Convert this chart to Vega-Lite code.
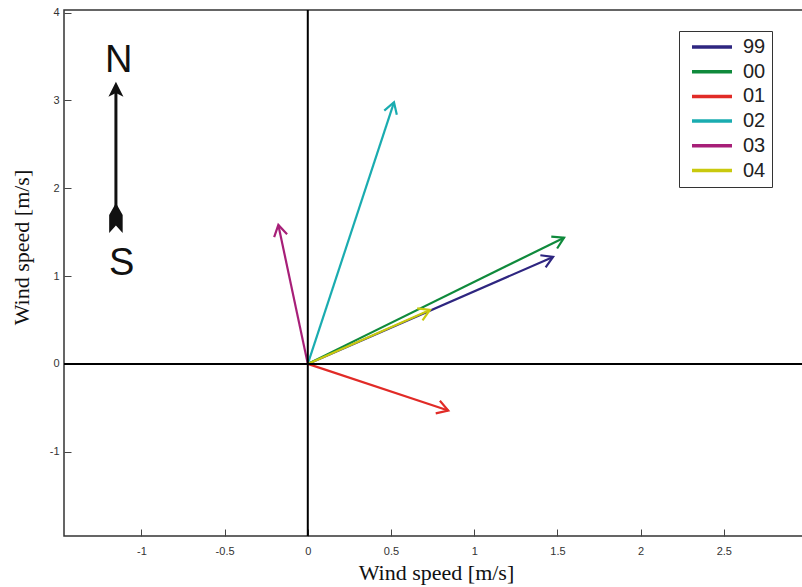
{
  "$schema": "https://vega.github.io/schema/vega-lite/v6.json",
  "width": 758,
  "height": 526,
  "autosize": {"type": "none"},
  "padding": {"left": 64, "top": 10, "right": -20, "bottom": 51},
  "background": "white",
  "config": {
    "view": {"stroke": "#333", "strokeWidth": 1.5},
    "axis": {
      "grid": false,
      "domain": false,
      "labelFont": "Liberation Sans",
      "labelFontSize": 11,
      "labelColor": "#333",
      "tickColor": "#444",
      "tickSize": -7,
      "tickWidth": 1,
      "titleFont": "Liberation Serif",
      "titleFontSize": 22,
      "titleFontWeight": "normal",
      "titleColor": "#111"
    }
  },
  "data": {
    "values": [
      {"series": "99", "u": 1.474, "v": 1.218},
      {"series": "00", "u": 1.540, "v": 1.437},
      {"series": "01", "u": 0.844, "v": -0.531},
      {"series": "02", "u": 0.518, "v": 2.979},
      {"series": "03", "u": -0.177, "v": 1.582},
      {"series": "04", "u": 0.734, "v": 0.614}
    ]
  },
  "layer": [
    {
      "mark": {"type": "rule", "strokeWidth": 2.2},
      "encoding": {
        "x": {
          "field": "u", "type": "quantitative",
          "scale": {"domain": [-1.465, 3.09], "nice": false, "zero": false},
          "axis": {
            "values": [-1, -0.5, 0, 0.5, 1, 1.5, 2, 2.5, 3],
            "labelExpr": "'' + datum.value",
            "labelPadding": 16,
            "title": "Wind speed [m/s]",
            "titleX": 372,
            "titleY": 43,
            "titleBaseline": "alphabetic",
            "titleAnchor": "middle"
          }
        },
        "y": {
          "field": "v", "type": "quantitative",
          "scale": {"domain": [-1.96, 4.03], "nice": false, "zero": false},
          "axis": {
            "values": [-1, 0, 1, 2, 3, 4],
            "labelExpr": "'' + datum.value",
            "labelPadding": 12,
            "title": "Wind speed [m/s]",
            "titleX": -36,
            "titleY": 237,
            "titleAngle": 270,
            "titleBaseline": "alphabetic",
            "titleAnchor": "middle"
          }
        },
        "x2": {"datum": 0},
        "y2": {"datum": 0},
        "color": {
          "field": "series", "type": "nominal",
          "scale": {
            "domain": ["99", "00", "01", "02", "03", "04"],
            "range": ["#2e2680", "#0f8a3c", "#e12b27", "#1aacb0", "#a71f78", "#c9c90e"]
          },
          "legend": {
            "orient": "none",
            "legendX": 615,
            "legendY": 21,
            "title": null,
            "symbolType": "stroke",
            "symbolSize": 1600,
            "symbolStrokeWidth": 3.5,
            "labelFont": "Liberation Sans",
            "labelFontSize": 20,
            "labelColor": "#222",
            "strokeColor": "#333",
            "fillColor": "white",
            "padding": 6,
            "clipHeight": 20,
            "rowPadding": 4.7,
            "symbolOffset": 5,
            "labelOffset": 9,
            "labelExpr": "datum.label + '    '"
          }
        }
      }
    },
    {
      "data": {"values": [{}]},
      "mark": {"type": "rule", "color": "#000", "strokeWidth": 2},
      "encoding": {
        "y": {"datum": 0, "type": "quantitative"}
      }
    },
    {
      "data": {"values": [{}]},
      "mark": {"type": "rule", "color": "#000", "strokeWidth": 2},
      "encoding": {
        "x": {"datum": 0, "type": "quantitative"}
      }
    },
    {
      "transform": [{"calculate": "atan2(-datum.v * 87.8, datum.u * 166.4) * 180 / PI", "as": "ang"}],
      "mark": {"type": "point", "shape": "M-1,-0.6L0,0L-1,0.6", "filled": false, "strokeWidth": 2.2, "size": 484, "opacity": 1},
      "encoding": {
        "x": {"field": "u", "type": "quantitative"},
        "y": {"field": "v", "type": "quantitative"},
        "color": {"field": "series", "type": "nominal", "legend": null},
        "angle": {"field": "ang", "type": "quantitative", "scale": null}
      }
    },
    {
      "data": {"values": [{}]},
      "mark": {"type": "rule", "color": "#111", "strokeWidth": 3},
      "encoding": {
        "x": {"datum": -1.153, "type": "quantitative"},
        "y": {"datum": 3.1, "type": "quantitative"},
        "y2": {"datum": 1.7}
      }
    },
    {
      "data": {"values": [{}]},
      "mark": {"type": "point", "shape": "M0,0L0.5,1L0,0.75L-0.5,1Z", "filled": true, "size": 900, "color": "#111", "opacity": 1},
      "encoding": {
        "x": {"datum": -1.153, "type": "quantitative"},
        "y": {"datum": 3.214, "type": "quantitative"}
      }
    },
    {
      "data": {"values": [{}]},
      "mark": {"type": "point", "shape": "M0,-1L0.45,-0.2L0.45,1L0,0.5L-0.45,1L-0.45,-0.2Z", "filled": true, "size": 900, "color": "#111", "opacity": 1},
      "encoding": {
        "x": {"datum": -1.153, "type": "quantitative"},
        "y": {"datum": 1.662, "type": "quantitative"}
      }
    },
    {
      "data": {"values": [{"t": "N"}]},
      "mark": {"type": "text", "font": "Liberation Sans", "fontSize": 38, "color": "#111", "align": "center", "baseline": "middle"},
      "encoding": {
        "text": {"field": "t"},
        "x": {"datum": -1.136, "type": "quantitative"},
        "y": {"datum": 3.45, "type": "quantitative"}
      }
    },
    {
      "data": {"values": [{"t": "S"}]},
      "mark": {"type": "text", "font": "Liberation Sans", "fontSize": 38, "color": "#111", "align": "center", "baseline": "middle"},
      "encoding": {
        "text": {"field": "t"},
        "x": {"datum": -1.118, "type": "quantitative"},
        "y": {"datum": 1.132, "type": "quantitative"}
      }
    }
  ]
}
